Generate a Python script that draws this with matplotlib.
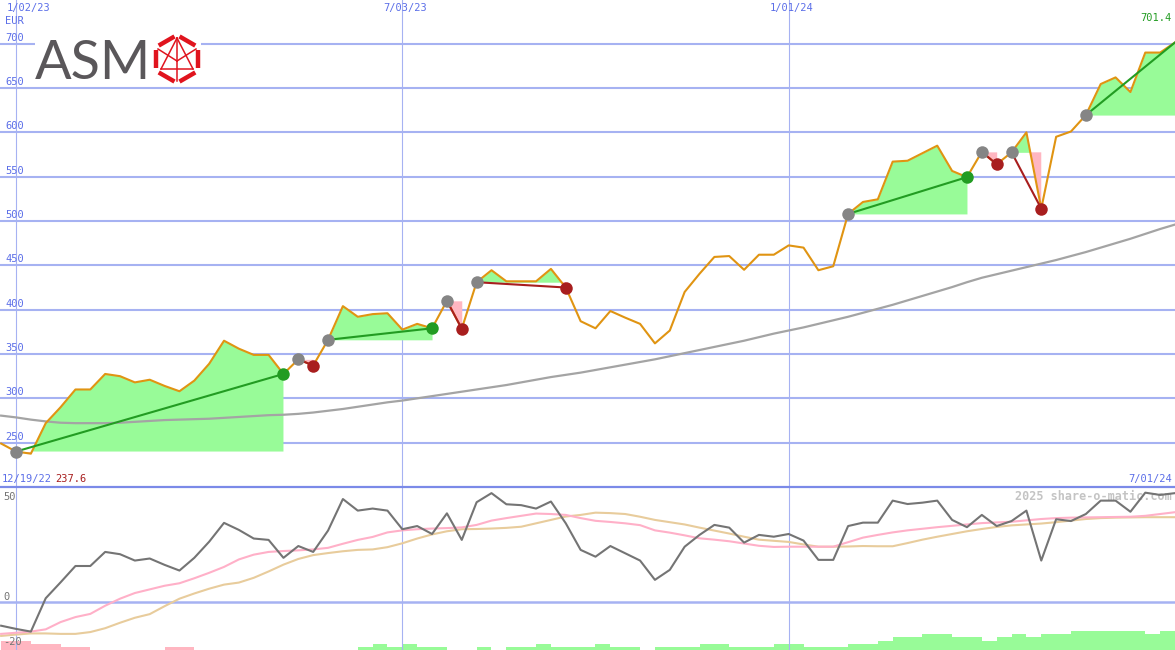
import numpy as np
import pandas as pd
import matplotlib
matplotlib.use("Agg")
import matplotlib.pyplot as plt
import matplotlib.dates as mdates

# weekly closes, 12/26/22 .. 7/01/24
dates = pd.date_range("2022-12-26", periods=80, freq="7D")
price = [249, 240, 237.6, 272, 290, 310, 310, 327.5, 325, 318, 321, 314, 308, 320, 339, 365,
         356, 349, 349, 327.5, 344, 337, 366, 404, 392, 395, 396, 377.5, 384, 379, 410, 378.5,
         431, 444.5, 432, 432, 432, 446, 425, 387, 379, 398.5, 391, 384, 362, 376.5, 420, 440.5,
         459.5, 460.5, 445, 462, 462, 472.5, 470, 444.5, 449, 508, 521.5, 524.5, 567, 568,
         576.5, 585, 556.5, 549.5, 578, 564, 577.5, 600, 514, 595, 601, 619.5, 654.5, 662,
         645.5, 690, 690, 701.4]
ma_long = [280.5, 278.5, 276, 274, 272.5, 272, 272, 272, 272.5, 273.5, 274.5, 275.5, 276, 276.5,
           277, 278, 279, 280, 281, 281.5, 282.5, 284, 286, 288, 290.5, 293, 295.5, 297.5, 300,
           302.5, 305, 307.5, 310, 312.5, 315, 318, 321, 324, 326.5, 329, 332, 335, 338, 341,
           344, 347.5, 351, 354.5, 358, 361.5, 365, 369, 373, 376.5, 380, 384, 388, 392, 396.5,
           401, 405.5, 410.5, 415.5, 420.5, 425.5, 431, 436, 440, 444, 448, 452, 456, 460.5,
           465, 470, 475, 480, 485.5, 491, 496]

# signals: (start index, end index, closed?)
signals = [(1, 19, True), (20, 21, True), (22, 29, True), (30, 31, True), (32, 38, True),
           (57, 65, True), (66, 67, True), (68, 70, True), (73, 79, False)]

# lower panel
osc = [-10.6, -12, -13.2, 1.5, 8.5, 15.7, 15.7, 21.9, 20.9, 18.1, 19, 16.2, 13.7, 19.3, 26.4,
       34.7, 31.6, 27.8, 27.2, 19.3, 24.5, 21.9, 31.3, 45.2, 40.1, 41, 40.1, 31.9, 33.3, 29.8,
       38.9, 27.2, 43.8, 47.8, 42.9, 42.5, 41, 44.1, 34.5, 22.8, 19.8, 24.5, 21.3, 18.1, 9.6,
       14, 24.2, 29.4, 33.8, 32.6, 26, 29.4, 28.6, 29.8, 26.9, 18.4, 18.4, 33.3, 34.8, 34.8,
       44.5, 43, 43.6, 44.5, 36, 32.8, 38.2, 33.3, 35.5, 40.1, 18.1, 36.3, 35.5, 38.6, 44.5,
       44.5, 39.6, 48, 47, 47.8]
osc_pink = [-14.2, -13.7, -13.2, -12.2, -9, -6.8, -5.4, -1.8, 1.3, 3.8, 5.4, 7, 8.1, 10.3, 12.7,
            15.3, 18.6, 20.7, 21.9, 22.3, 22.6, 23, 23.7, 25.5, 27.2, 28.5, 30.5, 31.4, 31.9,
            32.2, 32.4, 32.7, 33.8, 35.7, 36.8, 37.8, 38.8, 38.6, 38.2, 36.8, 35.6, 35.1, 34.5,
            33.7, 31.4, 30.4, 29.2, 27.9, 27.3, 26.6, 25.6, 24.6, 24.1, 24.2, 24.2, 24.2, 24.2,
            26.2, 28.2, 29.4, 30.5, 31.4, 32.1, 32.8, 33.4, 34, 34.6, 34.9, 35.2, 35.8, 36.4,
            36.8, 37, 37.1, 37.2, 37.3, 37.4, 37.8, 38.6, 39.4]
osc_tan = [-15.1, -14.5, -14, -14, -14.2, -14.2, -13.4, -11.7, -9.3, -7.1, -5.5, -2, 1.3, 3.6,
           5.7, 7.5, 8.4, 10.5, 13.3, 16.3, 18.8, 20.5, 21.4, 22.2, 22.8, 23, 24, 25.7, 27.8,
           29.6, 31, 31.9, 32, 32.2, 32.5, 33, 34.5, 36, 37.5, 38.2, 39.2, 39, 38.6, 37.4, 36,
           35, 34, 32.6, 31.3, 30, 28.6, 27.3, 26.8, 26.3, 25.2, 24.2, 24.2, 24.3, 24.5, 24.4,
           24.4, 25.8, 27.3, 28.6, 29.8, 31, 32, 32.9, 33.6, 34, 34.4, 35, 35.7, 36.4, 36.8, 37,
           37.1, 37.2, 37.2, 37.2]
hist = [-3, -3, -2, -2, -1, -1, 0, 0, 0, 0, 0, -1, -1, 0, 0, 0, 0, 0, 0, 0, 0, 0, 0, 0,
        1, 2, 1, 2, 1, 1, 0, 0, 1, 0, 1, 1, 2, 1, 1, 1, 2, 1, 1, 0, 1, 1, 1, 2, 2, 1, 1, 1,
        2, 2, 1, 1, 1, 2, 2, 3, 4, 4, 5, 5, 4, 4, 3, 4, 5, 4, 5, 5, 6, 6, 6, 6, 6, 5, 6, 6]

tick_dates = ["2023-01-02", "2023-07-03", "2024-01-01"]
tick_labels = ["1/02/23", "7/03/23", "1/01/24"]
price_ticks = [250, 300, 350, 400, 450, 500, 550, 600, 650, 700]
osc_ticks = [50, 0, -20]

x = mdates.date2num(dates)
price = np.array(price)
tx = mdates.date2num(pd.to_datetime(tick_dates))

BLUE = "#5b6ee8"
GRID = "#a6b2f2"
PX = 0.72  # points per pixel at dpi 100
MONO = "DejaVu Sans Mono"

fig = plt.figure(figsize=(11.75, 6.5), dpi=100)
ax1 = fig.add_axes([0, 163 / 650, 1, 487 / 650])
ax2 = fig.add_axes([0, 0, 1, 163 / 650])
ax3 = ax2.twinx()
# bars behind the oscillator lines and labels
ax3.set_zorder(ax2.get_zorder() - 1)
ax2.patch.set_visible(False)

xl = (tx[0] - 16 / 14.86 * 7, mdates.date2num(pd.Timestamp("2024-07-01")))
for a in (ax1, ax2, ax3):
    a.set_xlim(*xl)
    a.set_xticks([])
    a.set_yticks([])
    for s in a.spines.values():
        s.set_visible(False)
ax1.set_ylim(200, 749.3)
ax2.set_ylim(-21.3, 50.5)
ax3.set_ylim(0, 52)
ax2.spines["top"].set_visible(True)
ax2.spines["top"].set_color("#7b8ae8")
ax2.spines["top"].set_linewidth(1.6)

for v in price_ticks:
    ax1.axhline(v, color=GRID, lw=1.5, zorder=0)
    ax1.annotate(str(v), xy=(0, v), xycoords=("axes fraction", "data"), xytext=(5 * PX, 6 * PX),
                 textcoords="offset points", va="center", ha="left", color=BLUE,
                 family=MONO, fontsize=7.5, zorder=1)
ax2.axhline(0, color=GRID, lw=1.8, zorder=0)
for t in tx:
    ax1.axvline(t, color=GRID, lw=0.8, zorder=0)
    ax2.axvline(t, color=GRID, lw=0.8, zorder=0)

# signal fills
for s, e, closed in signals:
    xs = x[s:e + 1]
    ps = price[s:e + 1]
    base = price[s]
    ax1.fill_between(xs, ps, base, where=ps >= base, interpolate=True, color="#98fb98", lw=0, zorder=1)
    ax1.fill_between(xs, ps, base, where=ps <= base, interpolate=True, color="#ffb6c1", lw=0, zorder=1)

ax1.plot(x, ma_long, color="#a4a4a4", lw=1.6, zorder=2)
ax1.plot(x, price, color="#e09412", lw=1.5, zorder=3)

for s, e, closed in signals:
    up = price[e] >= price[s]
    col = "#229c22" if up else "#a81e1e"
    ax1.plot([x[s], x[e]], [price[s], price[e]], color=col, lw=1.5, zorder=4)
    ax1.plot(x[s], price[s], "o", ms=9, color="#858585", mec="none", zorder=5)
    if closed:
        ax1.plot(x[e], price[e], "o", ms=9, color=col, mec="none", zorder=5)

# labels on main panel
ax1.annotate(tick_labels[0], xy=(tx[0], 1), xycoords=("data", "axes fraction"), xytext=(-9 * PX, -8 * PX),
             textcoords="offset points", ha="left", va="center", color=BLUE, family=MONO, fontsize=7.5)
for t, lab in zip(tx[1:], tick_labels[1:]):
    ax1.annotate(lab, xy=(t, 1), xycoords=("data", "axes fraction"), xytext=(3 * PX, -8 * PX),
                 textcoords="offset points", ha="center", va="center", color=BLUE, family=MONO, fontsize=7.5)
ax1.annotate("EUR", xy=(0, 1), xycoords="axes fraction", xytext=(5 * PX, -21 * PX),
             textcoords="offset points", ha="left", va="center", color=BLUE, family=MONO, fontsize=7.5)
ax1.annotate(f"{price[-1]:.1f}", xy=(1, price[-1]), xycoords=("axes fraction", "data"),
             xytext=(-3 * PX, 24 * PX), textcoords="offset points", ha="right", va="center",
             color="#229c22", family=MONO, fontsize=7.5)
ax1.annotate("12/19/22", xy=(0, 0), xycoords="axes fraction", xytext=(2 * PX, 8 * PX),
             textcoords="offset points", ha="left", va="center", color=BLUE, family=MONO, fontsize=7.5)
ax1.annotate(f"{price.min():.1f}", xy=(0, 0), xycoords="axes fraction", xytext=(55 * PX, 8 * PX),
             textcoords="offset points", ha="left", va="center", color="#a81e1e", family=MONO, fontsize=7.5)
ax1.annotate("7/01/24", xy=(1, 0), xycoords="axes fraction", xytext=(-3 * PX, 8 * PX),
             textcoords="offset points", ha="right", va="center", color=BLUE, family=MONO, fontsize=7.5)

# lower panel
cols = ["#98fb98" if h > 0 else "#ffb6c1" for h in hist]
ax3.bar(x, np.abs(hist), width=7, align="edge", color=cols, lw=0)
ax2.plot(x, osc_tan, color="#e8cc9c", lw=1.5, zorder=2)
ax2.plot(x, osc_pink, color="#ffb0c8", lw=1.5, zorder=3)
ax2.plot(x, osc, color="#747474", lw=1.5, zorder=4)
for v in osc_ticks:
    off = -9 if v == max(osc_ticks) else 5
    ax2.annotate(str(v), xy=(0, v), xycoords=("axes fraction", "data"), xytext=(3 * PX, off * PX),
                 textcoords="offset points", ha="left", va="center", color="#747474",
                 family=MONO, fontsize=7.5, zorder=6)
ax2.annotate("2025 share-o-matic.com", xy=(1, 1), xycoords="axes fraction", xytext=(-3 * PX, -9 * PX),
             textcoords="offset points", ha="right", va="center", color="#c4c4c4",
             family=MONO, fontsize=8.5, fontweight="bold")

# logo
ov = fig.add_axes([0, 0, 1, 1], zorder=10)
ov.set_xlim(0, 1175)
ov.set_ylim(650, 0)
ov.axis("off")
ov.patch.set_alpha(0)
ov.add_patch(plt.Rectangle((35, 30), 166, 56, color="white", lw=0))
ov.text(35, 79, "ASM", family="Lato", fontsize=39, color="#5a575a", ha="left", va="baseline")
cx, cy, r = 177, 59, 24
ang = np.deg2rad([90, 30, -30, -90, -150, 150, 90])
hx = cx + r * np.cos(ang)
hy = cy - r * np.sin(ang)
for i in range(6):
    x0, y0, x1, y1 = hx[i], hy[i], hx[i + 1], hy[i + 1]
    ov.plot([x0 + 0.12 * (x1 - x0), x1 - 0.12 * (x1 - x0)], [y0 + 0.12 * (y1 - y0), y1 - 0.12 * (y1 - y0)],
            color="#e0141e", lw=3.2, solid_capstyle="butt")
inner = [((177, 38), (161, 69)), ((177, 38), (193, 69)), ((161, 69), (193, 69)),
         ((158, 49), (177, 61)), ((196, 49), (177, 61)), ((177, 61), (177, 81)), ((177, 38), (177, 61))]
for (a0, b0), (a1, b1) in inner:
    ov.plot([a0, a1], [b0, b1], color="#e0141e", lw=1.1)

fig.savefig("out.png", dpi=100, facecolor="white")
